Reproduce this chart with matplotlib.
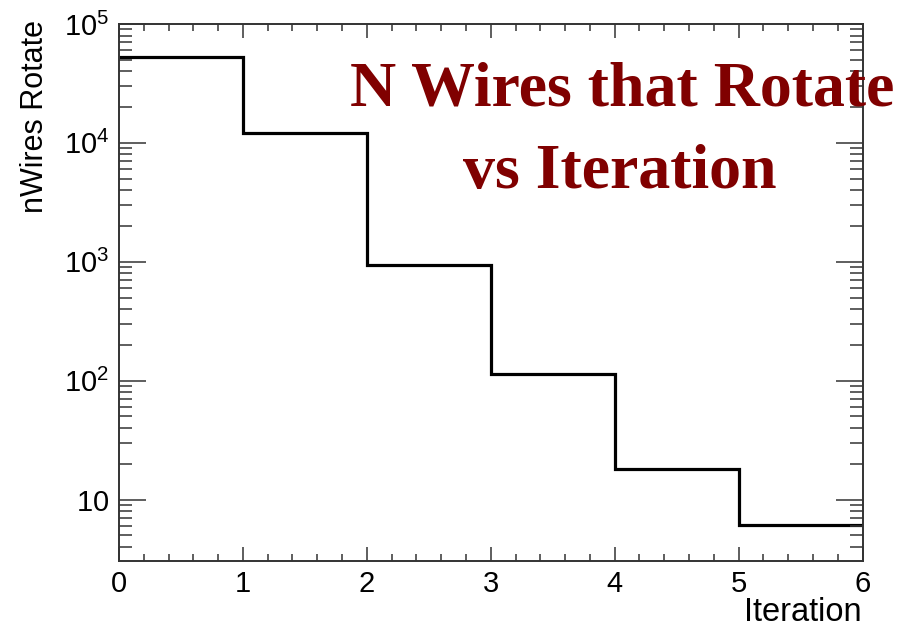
import matplotlib
matplotlib.use("Agg")
import matplotlib.pyplot as plt
from matplotlib.ticker import FixedLocator, FixedFormatter, LogLocator, MultipleLocator, NullFormatter

# Histogram content: number of wires that rotate per iteration bin
iteration_edges = [0, 1, 2, 3, 4, 5, 6]
n_wires_rotate = [52800, 12000, 940, 113, 18.1, 6.05]

ytick_values = [10, 100, 1000, 10000, 100000]
ytick_labels = [r"$\mathregular{10}$", r"$\mathregular{10^{2}}$", r"$\mathregular{10^{3}}$",
                r"$\mathregular{10^{4}}$", r"$\mathregular{10^{5}}$"]

W, H = 918, 627
plt.rcParams["font.family"] = ["Liberation Sans", "DejaVu Sans"]
plt.rcParams["mathtext.fontset"] = "custom"
plt.rcParams["mathtext.rm"] = "Liberation Sans"

fig = plt.figure(figsize=(W / 100, H / 100), dpi=100)
left, right, top, bottom = 119, 862.5, 24, 560.5
ax = fig.add_axes([left / W, (H - bottom) / H, (right - left) / W, (bottom - top) / H])

ax.stairs(n_wires_rotate, iteration_edges, baseline=None, color="black", linewidth=2.3)

ax.set_yscale("log")
ax.set_xlim(0, 6)
ax.set_ylim(3.07, 1e5)

frame_color = "#333333"
for s in ax.spines.values():
    s.set_color(frame_color)
    s.set_linewidth(1.4)

ax.xaxis.set_major_locator(MultipleLocator(1))
ax.xaxis.set_minor_locator(MultipleLocator(0.2))
ax.yaxis.set_major_locator(FixedLocator(ytick_values))
ax.yaxis.set_major_formatter(FixedFormatter(ytick_labels))
ax.yaxis.set_minor_locator(LogLocator(base=10, subs=[2, 3, 4, 5, 6, 7, 8, 9], numticks=20))
ax.yaxis.set_minor_formatter(NullFormatter())

ax.tick_params(axis="both", which="both", direction="in", top=True, right=True,
               color=frame_color, width=1.1)
ax.tick_params(axis="x", which="major", length=10, labelsize=21, pad=7)
ax.tick_params(axis="x", which="minor", length=5)
ax.tick_params(axis="y", which="major", length=19.5, labelsize=21, pad=7)
ax.tick_params(axis="y", which="minor", length=9.5)

# Axis titles, aligned to the axis ends
fig.text(35 / W, 1 - 116.5 / H, "nWires Rotate", rotation=90, ha="center", va="center",
         fontsize=22, rotation_mode="anchor")
fig.text(862 / W, 1 - 621 / H, "Iteration", ha="right", va="baseline", fontsize=23.5)

# Title
title_kw = dict(ha="center", va="baseline", fontsize=46, fontweight="bold",
                color="#800000", family=["Liberation Serif", "DejaVu Serif"])
fig.text(622 / W, 1 - 105 / H, "N Wires that Rotate", **title_kw)
fig.text(620 / W, 1 - 188 / H, "vs Iteration", **title_kw)

fig.savefig("out.png", dpi=100)
